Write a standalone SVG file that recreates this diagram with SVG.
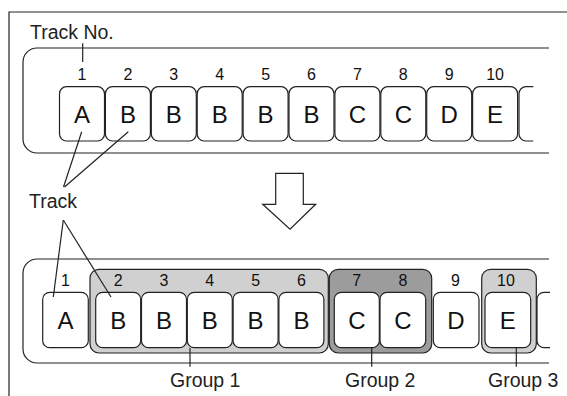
<svg xmlns="http://www.w3.org/2000/svg" width="567" height="396" viewBox="0 0 567 396">
<style>
.ln{fill:none;stroke:#222;stroke-width:1.2}
.box{fill:#fff;stroke:#222;stroke-width:1.2}
.g1{fill:#d0d0d0;stroke:#222;stroke-width:1.2}
.g2{fill:#9c9c9c;stroke:#222;stroke-width:1.2}
.num{font-family:"Liberation Sans",Arial,sans-serif;font-size:16px;fill:#111;text-anchor:middle}
.let{font-family:"Liberation Sans",Arial,sans-serif;font-size:24px;fill:#111;text-anchor:middle}
.lbl{font-family:"Liberation Sans",Arial,sans-serif;font-size:19.5px;fill:#222}
</style>
<rect x="0" y="0" width="567" height="396" fill="#fff"/>
<path class="ln" d="M567,12 H9 V396"/>

<g id="top-band">
<path class="ln" d="M549,48 H37 A14,14 0 0 0 23,62 V139 A14,14 0 0 0 37,153 H549"/>
</g>
<g id="track-no-label">
<text class="lbl" x="30" y="39">Track No.</text>
</g>

<g id="top-t1"><rect class="box" x="59.5" y="86.7" width="45" height="54.3" rx="7"/><text class="num" x="82" y="80">1</text><text class="let" x="82" y="123.3">A</text></g>
<g id="top-t2"><rect class="box" x="105.4" y="86.7" width="45" height="54.3" rx="7"/><text class="num" x="127.9" y="80">2</text><text class="let" x="127.9" y="123.3">B</text></g>
<g id="top-t3"><rect class="box" x="151.3" y="86.7" width="45" height="54.3" rx="7"/><text class="num" x="173.8" y="80">3</text><text class="let" x="173.8" y="123.3">B</text></g>
<g id="top-t4"><rect class="box" x="197.2" y="86.7" width="45" height="54.3" rx="7"/><text class="num" x="219.7" y="80">4</text><text class="let" x="219.7" y="123.3">B</text></g>
<g id="top-t5"><rect class="box" x="243.1" y="86.7" width="45" height="54.3" rx="7"/><text class="num" x="265.6" y="80">5</text><text class="let" x="265.6" y="123.3">B</text></g>
<g id="top-t6"><rect class="box" x="289" y="86.7" width="45" height="54.3" rx="7"/><text class="num" x="311.5" y="80">6</text><text class="let" x="311.5" y="123.3">B</text></g>
<g id="top-t7"><rect class="box" x="334.9" y="86.7" width="45" height="54.3" rx="7"/><text class="num" x="357.4" y="80">7</text><text class="let" x="357.4" y="123.3">C</text></g>
<g id="top-t8"><rect class="box" x="380.8" y="86.7" width="45" height="54.3" rx="7"/><text class="num" x="403.3" y="80">8</text><text class="let" x="403.3" y="123.3">C</text></g>
<g id="top-t9"><rect class="box" x="426.7" y="86.7" width="45" height="54.3" rx="7"/><text class="num" x="449.2" y="80">9</text><text class="let" x="449.2" y="123.3">D</text></g>
<g id="top-t10"><rect class="box" x="472.6" y="86.7" width="45" height="54.3" rx="7"/><text class="num" x="495.1" y="80">10</text><text class="let" x="495.1" y="123.3">E</text></g>
<g id="top-t11"><path class="ln" d="M533.3,86.7 H526 A7,7 0 0 0 519,93.7 V134 A7,7 0 0 0 526,141 H533.3"/></g>

<g id="arrow">
<polygon class="box" points="275.7,173.3 303.3,173.3 303.3,204.3 315.7,204.3 290,229.3 262.7,204.3 275.7,204.3"/>
</g>

<g id="track-label">
<text class="lbl" x="29" y="207.7">Track</text>
</g>

<g id="bottom-band">
<path class="ln" d="M549,259 H37 A14,14 0 0 0 23,273 V349 A14,14 0 0 0 37,363 H549"/>
</g>

<g id="group1"><rect class="g1" x="90" y="269.3" width="238.3" height="83.7" rx="9"/></g>
<g id="group2"><rect class="g2" x="329.3" y="269.3" width="102.4" height="83.7" rx="9"/></g>
<g id="group3"><rect class="g1" x="481.7" y="269.3" width="54.6" height="83.7" rx="9"/></g>

<g id="bot-t1"><rect class="box" x="42.7" y="292.4" width="45.6" height="55.3" rx="7"/><text class="num" x="65.5" y="286">1</text><text class="let" x="65.5" y="328.5">A</text></g>
<g id="bot-t2"><rect class="box" x="95.7" y="292.4" width="45" height="55.3" rx="7"/><text class="num" x="118.2" y="286">2</text><text class="let" x="118.2" y="328.5">B</text></g>
<g id="bot-t3"><rect class="box" x="141.5" y="292.4" width="45" height="55.3" rx="7"/><text class="num" x="164" y="286">3</text><text class="let" x="164" y="328.5">B</text></g>
<g id="bot-t4"><rect class="box" x="187.3" y="292.4" width="45" height="55.3" rx="7"/><text class="num" x="209.8" y="286">4</text><text class="let" x="209.8" y="328.5">B</text></g>
<g id="bot-t5"><rect class="box" x="233.1" y="292.4" width="45" height="55.3" rx="7"/><text class="num" x="255.6" y="286">5</text><text class="let" x="255.6" y="328.5">B</text></g>
<g id="bot-t6"><rect class="box" x="278.9" y="292.4" width="45" height="55.3" rx="7"/><text class="num" x="301.4" y="286">6</text><text class="let" x="301.4" y="328.5">B</text></g>
<g id="bot-t7"><rect class="box" x="334.3" y="292.4" width="45" height="55.3" rx="7"/><text class="num" x="356.8" y="286">7</text><text class="let" x="356.8" y="328.5">C</text></g>
<g id="bot-t8"><rect class="box" x="380" y="292.4" width="45.7" height="55.3" rx="7"/><text class="num" x="403" y="286">8</text><text class="let" x="403" y="328.5">C</text></g>
<g id="bot-t9"><rect class="box" x="433.3" y="292.4" width="45.7" height="55.3" rx="7"/><text class="num" x="455.5" y="286">9</text><text class="let" x="456" y="328.5">D</text></g>
<g id="bot-t10"><rect class="box" x="485" y="292.4" width="45.7" height="55.3" rx="7"/><text class="num" x="506" y="286">10</text><text class="let" x="507.8" y="328.5">E</text></g>
<g id="bot-t11"><path class="ln" d="M550,292.4 H544 A7,7 0 0 0 537,299.4 V340.7 A7,7 0 0 0 544,347.7 H550"/></g>

<g id="group-labels">
<text class="lbl" x="170" y="386.7">Group 1</text>
<text class="lbl" x="345" y="387">Group 2</text>
<text class="lbl" x="488" y="387">Group 3</text>
</g>

<g id="connectors">
<line class="ln" x1="82.7" y1="43.3" x2="82.7" y2="62"/>
<line class="ln" x1="81.7" y1="131.7" x2="63.5" y2="187"/>
<line class="ln" x1="128.3" y1="131.7" x2="64.5" y2="187"/>
<line class="ln" x1="63.3" y1="220" x2="53.3" y2="297"/>
<line class="ln" x1="63.3" y1="220" x2="111" y2="297"/>
<line class="ln" x1="190" y1="348" x2="190" y2="366.7"/>
<line class="ln" x1="371.7" y1="348" x2="371.7" y2="366.7"/>
<line class="ln" x1="516.3" y1="348" x2="516.3" y2="366.7"/>
</g>
</svg>
